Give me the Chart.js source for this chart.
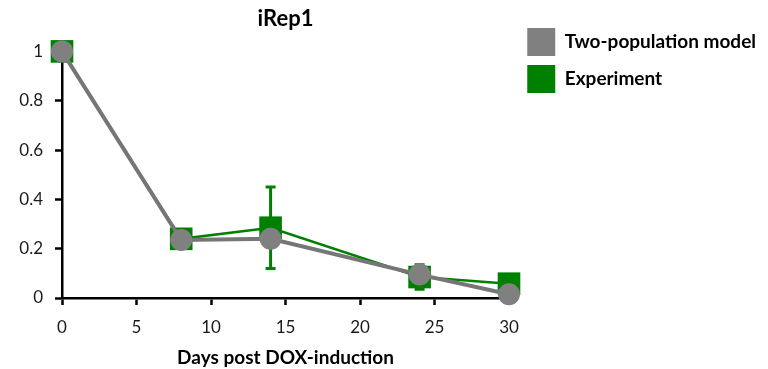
<!DOCTYPE html>
<html>
<head>
<meta charset="utf-8">
<script src="https://cdn.jsdelivr.net/npm/chart.js@4.4.1/dist/chart.umd.min.js"></script>
<style>
    html, body { margin: 0; padding: 0; background: #fff; }
    .grafico { width: 768px; height: 369px; }
</style>
</head>
<body>
<div class="grafico"><canvas class="myChart"></canvas></div>
<script>
// DADOS: DIAS APÓS A INDUÇÃO E FRAÇÃO DE CÉLULAS
const dias = [0, 8, 14, 24, 30];
const modelo = [1, 0.235, 0.24, 0.095, 0.015];
const experimento = [1, 0.24, 0.285, 0.085, 0.058];
const erroExperimento = [0, 0, 0.165, 0.05, 0];
const rotulosY = ['0', '0.2', '0.4', '0.6', '0.8', '1'];

// CORES E FONTE
const corModelo = '#808080';
const corLinhaModelo = '#767676';
const corExperimento = '#008000';
const fonte = 'Lato';

// PLUGIN PARA DESENHAR AS BARRAS DE ERRO DO EXPERIMENTO
const barrasDeErro = {
    id: 'barrasDeErro',
    afterDatasetDraw(chart, args) {
        if (args.index !== 1) return;
        const { ctx, scales: { x, y } } = chart;
        ctx.save();
        ctx.strokeStyle = corExperimento;
        ctx.lineWidth = 3;
        dias.forEach((dia, i) => {
            const erro = erroExperimento[i];
            if (!erro) return;
            const px = x.getPixelForValue(dia);
            const topo = y.getPixelForValue(experimento[i] + erro);
            const base = y.getPixelForValue(experimento[i] - erro);
            ctx.beginPath();
            ctx.moveTo(px, topo);
            ctx.lineTo(px, base);
            ctx.moveTo(px - 5, topo);
            ctx.lineTo(px + 5, topo);
            ctx.moveTo(px - 5, base);
            ctx.lineTo(px + 5, base);
            ctx.stroke();
        });
        ctx.restore();
    }
};

const ctx = document.querySelector('.myChart');

const grafico = new Chart(ctx, {
    type: 'line',
    data: {
        datasets: [{
            label: 'Two-population model',
            data: dias.map((d, i) => ({ x: d, y: modelo[i] })),
            borderColor: corLinhaModelo,
            backgroundColor: corModelo,
            borderWidth: 4,
            pointStyle: 'circle',
            pointRadius: 11,
            pointBackgroundColor: corModelo,
            pointBorderWidth: 0,
            clip: false
        }, {
            label: 'Experiment',
            data: dias.map((d, i) => ({ x: d, y: experimento[i] })),
            borderColor: corExperimento,
            backgroundColor: corExperimento,
            borderWidth: 2.5,
            pointStyle: 'rect',
            pointRadius: 16,
            pointBackgroundColor: corExperimento,
            pointBorderWidth: 0,
            clip: false
        }]
    },
    options: {
        responsive: true,
        maintainAspectRatio: false,
        animation: false,
        events: [],
        layout: { padding: { left: 0, right: 2, top: 0, bottom: 0 } },
        plugins: {
            title: {
                display: true,
                text: 'iRep1',
                fullSize: false,
                color: '#000',
                font: { family: fonte, size: 22, weight: 'bold' },
                padding: { top: 6, bottom: 19 }
            },
            legend: {
                position: 'right',
                align: 'start',
                maxWidth: 400,
                title: { display: true, text: '', font: { size: 10 }, padding: { top: 7, bottom: 0 } },
                labels: {
                    boxWidth: 28,
                    boxHeight: 28,
                    padding: 9,
                    color: '#000',
                    font: { family: fonte, size: 19, weight: 'bold' },
                    generateLabels: (chart) =>
                        Chart.defaults.plugins.legend.labels.generateLabels(chart)
                            .map(item => ({ ...item, lineWidth: 0 }))
                }
            },
            tooltip: { enabled: false }
        },
        scales: {
            x: {
                type: 'linear',
                min: 0,
                max: 30,
                afterFit: (escala) => { escala.height = 71; },
                ticks: {
                    stepSize: 5,
                    padding: 12,
                    color: '#1a1a1a',
                    font: { family: fonte, size: 17 }
                },
                grid: {
                    drawOnChartArea: false,
                    tickLength: 7,
                    tickWidth: 2.5,
                    tickColor: '#000'
                },
                border: { display: true, color: '#000', width: 2.5 },
                title: {
                    display: true,
                    text: 'Days post DOX-induction',
                    color: '#000',
                    font: { family: fonte, size: 19, weight: 'bold' },
                    padding: { top: 0, bottom: 0 }
                }
            },
            y: {
                min: 0,
                max: 1,
                afterFit: (escala) => { escala.width = 62; },
                ticks: {
                    stepSize: 0.2,
                    padding: 12,
                    color: '#1a1a1a',
                    font: { family: fonte, size: 17 },
                    callback: (valor, indice) => rotulosY[indice]
                },
                grid: {
                    drawOnChartArea: false,
                    tickLength: 7,
                    tickWidth: 2.5,
                    tickColor: '#000'
                },
                border: { display: true, color: '#000', width: 2.5 }
            },
            // ESPAÇO ENTRE A ÁREA DO GRÁFICO E A LEGENDA
            margemDireita: {
                type: 'linear',
                position: 'right',
                display: true,
                grid: { display: false, drawTicks: false },
                ticks: { display: false },
                border: { display: false },
                afterFit: (escala) => {
                    const largura = escala.chart.width - 2 - 509 - escala.chart.legend.width;
                    escala.width = Math.max(0, largura);
                }
            }
        }
    },
    plugins: [barrasDeErro]
});
</script>
</body>
</html>
